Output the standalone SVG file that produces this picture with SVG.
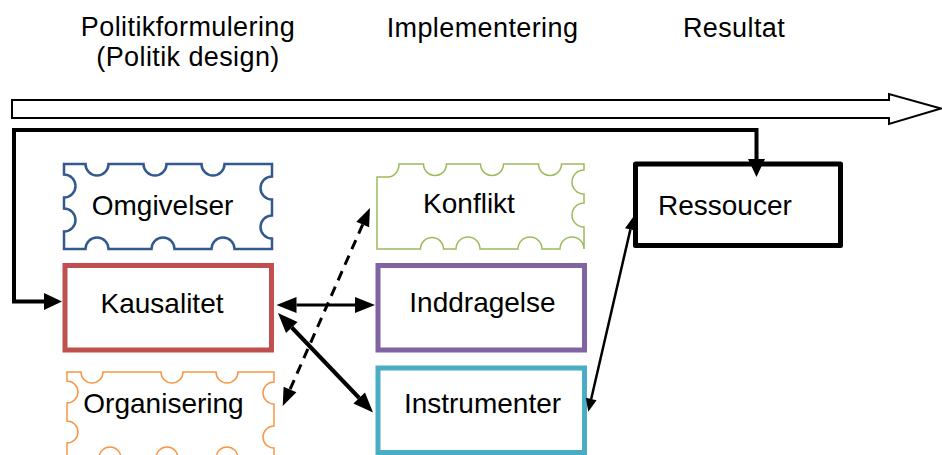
<svg xmlns="http://www.w3.org/2000/svg" width="942" height="455" viewBox="0 0 942 455">
<style>
text{font-family:"Liberation Sans",Arial,sans-serif;font-size:28px;fill:#000}
.t{text-anchor:middle}
.h{font-size:27px;letter-spacing:0.4px}
.box{fill:#fff;stroke-width:5}
.np{fill:#fff}
.c{fill:none;stroke:#000}
</style>
<defs>
<marker id="hBig" markerUnits="userSpaceOnUse" markerWidth="18" markerHeight="17" refX="0" refY="8.5" orient="auto-start-reverse" overflow="visible"><path d="M0,0 L18,8.5 L0,17 Z" fill="#000"/></marker>
<marker id="hMed" markerUnits="userSpaceOnUse" markerWidth="20" markerHeight="16" refX="0" refY="8" orient="auto-start-reverse" overflow="visible"><path d="M0,0 L20,8 L0,16 Z" fill="#000"/></marker>
<marker id="hDash" markerUnits="userSpaceOnUse" markerWidth="18" markerHeight="14" refX="0" refY="7" orient="auto-start-reverse" overflow="visible"><path d="M0,0 L18,7 L0,14 Z" fill="#000"/></marker>
<marker id="hThin" markerUnits="userSpaceOnUse" markerWidth="13" markerHeight="11" refX="0" refY="5.5" orient="auto-start-reverse" overflow="visible"><path d="M0,0 L13,5.5 L0,11 Z" fill="#000"/></marker>
</defs>
<rect width="942" height="455" fill="#fff"/>

<g id="titles">
<text class="t h" x="188" y="35.5">Politikformulering</text>
<text class="t h" x="188" y="65.5">(Politik design)</text>
<text class="t h" x="482.5" y="37">Implementering</text>
<text class="t h" x="734" y="37">Resultat</text>
</g>

<g id="timeline">
<polygon points="12,100 889,100 889,94 941,108.5 889,124 889,118 12,118" fill="#fff" stroke="#000" stroke-width="2"/>
</g>

<g id="omgivelser">
<path class="np" stroke="#335a8e" stroke-width="2.5" d="M64,164 H85.5 A11.5,11.5 0 0 0 108.5,164 H143.5 A11.5,11.5 0 0 0 166.5,164 H201.5 A11.5,11.5 0 0 0 224.5,164 H272 V176.5 A11.5,11.5 0 0 0 272,199.5 V215.5 A11.5,11.5 0 0 0 272,238.5 V249 H234.5 A11.5,11.5 0 0 0 211.5,249 H174.5 A11.5,11.5 0 0 0 151.5,249 H108.5 A11.5,11.5 0 0 0 85.5,249 H64 V231.5 A11.5,11.5 0 0 0 64,208.5 V197.5 A11.5,11.5 0 0 0 64,174.5 Z"/>
<text class="t" x="162.5" y="215">Omgivelser</text>
</g>

<g id="konflikt">
<path class="np" stroke="#9bbb59" stroke-width="1.5" d="M377,177 H388 A11,13 0 0 0 399,164 H423.5 A11.5,11.5 0 0 0 446.5,164 H480.5 A11.5,11.5 0 0 0 503.5,164 H538.5 A11.5,11.5 0 0 0 561.5,164 H584 V170 A12,12 0 0 0 584,194 V203 A12,12 0 0 0 584,227 V249 A12,12 0 0 0 560,249 H542 A12,12 0 0 0 518,249 H480 A12,12 0 0 0 456,249 H443.5 A11.5,11.5 0 0 0 420.5,249 H377 Z"/>
<text class="t" x="469" y="213">Konflikt</text>
</g>

<g id="organisering">
<path class="np" stroke="#f79646" stroke-width="1.5" d="M67,372 H81 A11,11 0 0 0 103,372 H161 A11,11 0 0 0 183,372 H216 A11,11 0 0 0 238,372 H274 V382 A11,11 0 0 0 274,404 V426 A11,11 0 0 0 274,448 V458 H238 A11,11 0 0 0 216,458 H178 A11,11 0 0 0 156,458 H121 A11,11 0 0 0 99,458 H67 V443 A11,11 0 0 0 67,421 V403 A11,11 0 0 0 67,381 Z"/>
<text class="t" x="163.5" y="413">Organisering</text>
</g>

<g id="kausalitet">
<rect class="box" x="65" y="265.5" width="206.5" height="84.5" stroke="#c0504d"/>
<text class="t" x="162" y="313">Kausalitet</text>
</g>

<g id="inddragelse">
<rect class="box" x="378" y="265.5" width="206.5" height="84.5" stroke="#8064a2"/>
<text class="t" x="482.5" y="312">Inddragelse</text>
</g>

<g id="instrumenter">
<rect class="box" x="378" y="368" width="206.5" height="84.5" stroke="#4bacc6"/>
<text class="t" x="482.5" y="413">Instrumenter</text>
</g>

<g id="ressoucer">
<rect class="box" x="635.5" y="164" width="205" height="81.5" stroke="#000" stroke-linejoin="round"/>
<text x="658" y="215">Ressoucer</text>
</g>

<g id="connectors">
<path class="c" stroke-width="4" stroke-linejoin="miter" d="M44,301.5 H14 V130 H756.5 V159" marker-start="url(#hBig)" marker-end="url(#hBig)"/>
<path class="c" stroke-width="3" d="M296.5,305 H355" marker-start="url(#hMed)" marker-end="url(#hMed)"/>
<path class="c" stroke-width="4" d="M291.8,327.5 L359.2,398" marker-start="url(#hMed)" marker-end="url(#hMed)"/>
<path class="c" stroke-width="3" stroke-dasharray="10 7" d="M362.7,224.5 L290,389.5" marker-start="url(#hDash)" marker-end="url(#hDash)"/>
<path class="c" stroke-width="2.5" d="M630.4,229.4 L591.2,399" marker-start="url(#hThin)" marker-end="url(#hThin)"/>
</g>
</svg>
